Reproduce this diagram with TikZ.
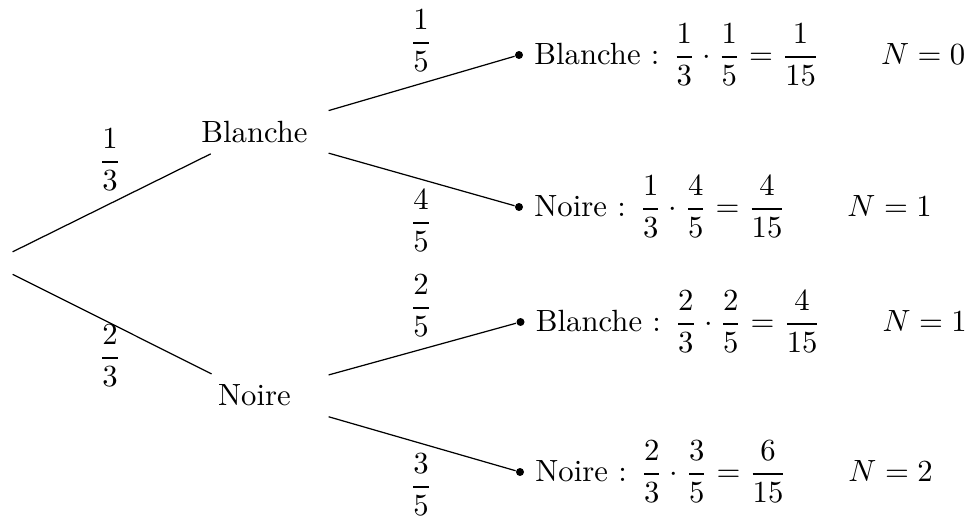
\documentclass[tikz,border=0pt]{standalone}
\usepackage{amsmath}
\begin{document}
\begin{tikzpicture}[x=0.3257pt,y=-0.3257pt,
  lvl/.style={minimum width=47.9pt, inner sep=0.3333em},
  rootbox/.style={minimum size=14.33pt, inner sep=0pt},
  leafdot/.style={circle, fill, inner sep=0pt, minimum size=2.6pt},
  leaftext/.style={anchor=west},
  prob/.style={inner sep=0pt, anchor=center},
  edge/.style={line width=0.4pt}]
\useasboundingbox (0,0) rectangle (971,518);
% root and first level
\node[rootbox] (root) at (-10,263) {};
\node[lvl, anchor=base] (b) at (254.5,142.7) {Blanche};
\node[lvl, anchor=base] (n) at (254.5,405.7) {Noire};
% leaves
\node[leafdot] (bb) at (519,55) {};
\node[leafdot] (bn) at (519,207) {};
\node[leafdot] (nb) at (520.5,322) {};
\node[leafdot] (nn) at (520,472) {};
\node[leaftext] (tbb) at (bb.east) {Blanche : $\dfrac{1}{3}\cdot\dfrac{1}{5}=\dfrac{1}{15}\qquad N=0$};
\node[leaftext] (tbn) at (bn.east) {Noire : $\dfrac{1}{3}\cdot\dfrac{4}{5}=\dfrac{4}{15}\qquad N=1$};
\node[leaftext] (tnb) at (nb.east) {Blanche : $\dfrac{2}{3}\cdot\dfrac{2}{5}=\dfrac{4}{15}\qquad N=1$};
\node[leaftext] (tnn) at (nn.east) {Noire : $\dfrac{2}{3}\cdot\dfrac{3}{5}=\dfrac{6}{15}\qquad N=2$};
% edges
\draw[edge] (root) -- (b);
\draw[edge] (root) -- (n);
\draw[edge] (b) -- (bb);
\draw[edge] (b) -- (bn);
\draw[edge] (n) -- (nb);
\draw[edge] (n) -- (nn);
% probabilities
\node[prob] (p13) at (110,160) {$\dfrac{1}{3}$};
\node[prob] (p23) at (110,356) {$\dfrac{2}{3}$};
\node[prob] (p15) at (421,41) {$\dfrac{1}{5}$};
\node[prob] (p45) at (421,221) {$\dfrac{4}{5}$};
\node[prob] (p25) at (421,306) {$\dfrac{2}{5}$};
\node[prob] (p35) at (421,485) {$\dfrac{3}{5}$};
\end{tikzpicture}
\end{document}
